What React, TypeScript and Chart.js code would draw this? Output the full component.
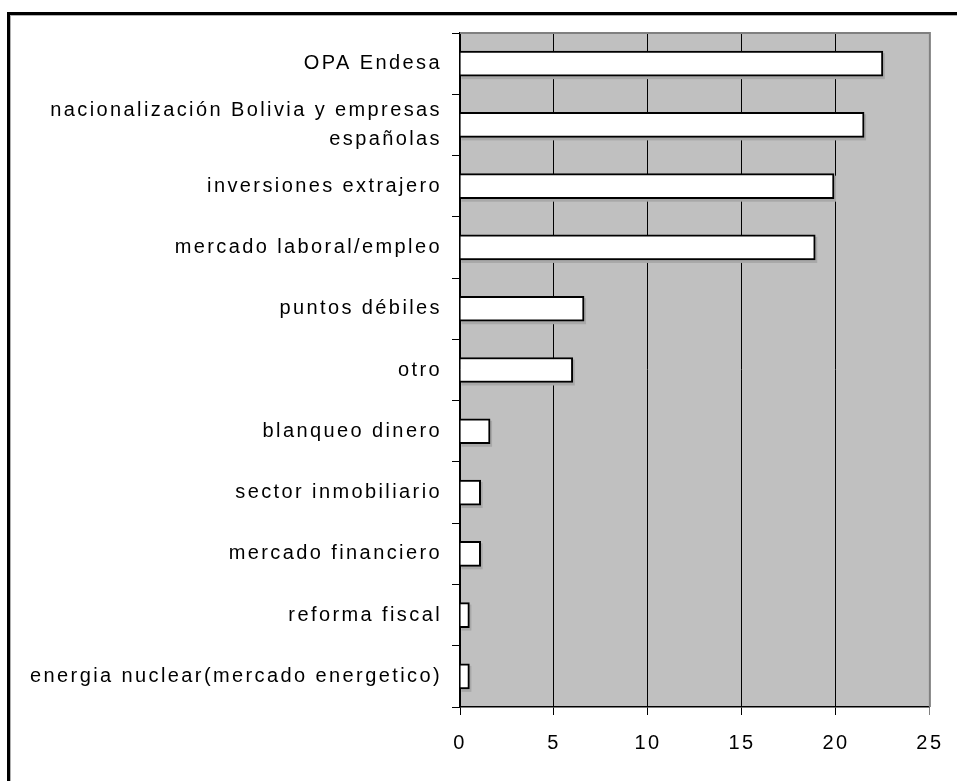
import React, { useEffect, useRef } from "react";
import { Chart, registerables } from "chart.js";

Chart.register(...registerables);

const categories: (string | string[])[] = [
  "OPA Endesa",
  ["nacionalización Bolivia y empresas", "españolas"],
  "inversiones extrajero",
  "mercado laboral/empleo",
  "puntos débiles",
  "otro",
  "blanqueo dinero",
  "sector inmobiliario",
  "mercado financiero",
  "reforma fiscal",
  "energia nuclear(mercado energetico)",
];

const values: number[] = [22.5, 21.5, 19.9, 18.9, 6.6, 6.0, 1.6, 1.1, 1.1, 0.5, 0.5];

const xTicks: number[] = [0, 5, 10, 15, 20, 25];

const W = 957;
const H = 781;
const FONT = "Liberation Sans, Arial, sans-serif";

const framePlugin = {
  id: "framePlugin",
  beforeDraw(chart: any) {
    const { ctx, chartArea } = chart;
    const { left, top, right, bottom } = chartArea;
    ctx.save();
    ctx.fillStyle = "#ffffff";
    ctx.fillRect(0, 0, chart.width, chart.height);
    ctx.fillStyle = "#C0C0C0";
    ctx.fillRect(left, top, right - left, bottom - top);
    ctx.restore();
    (ctx as any).letterSpacing = "2.4px";
  },
  beforeDatasetsDraw(chart: any) {
    const { ctx } = chart;
    const meta = chart.getDatasetMeta(0);
    ctx.save();
    ctx.fillStyle = "#a8a8a8";
    meta.data.forEach((bar: any) => {
      const { x, y, base, height } = bar.getProps(["x", "y", "base", "height"], true);
      ctx.fillRect(base + 1, y - height / 2 + 2, x - base + 1, height + 1);
    });
    ctx.restore();
  },
  afterDraw(chart: any) {
    const { ctx, chartArea } = chart;
    const { left, top, right, bottom } = chartArea;
    ctx.save();
    ctx.strokeStyle = "#808080";
    ctx.lineWidth = 2;
    ctx.beginPath();
    ctx.moveTo(left, top);
    ctx.lineTo(right, top);
    ctx.lineTo(right, bottom);
    ctx.stroke();
    ctx.fillStyle = "#000000";
    ctx.fillRect(7, 12, 3, chart.height - 12);
    ctx.fillRect(7, 12, chart.width - 7, 3);
    ctx.fillStyle = "#b0b0b0";
    ctx.fillRect(10, 15, 1, chart.height - 15);
    ctx.fillRect(10, 15, chart.width - 10, 1);
    ctx.restore();
  },
};

export default function App() {
  const ref = useRef<HTMLCanvasElement | null>(null);

  useEffect(() => {
    if (!ref.current) return;
    const chart = new Chart(ref.current, {
      type: "bar",
      data: {
        labels: categories,
        datasets: [
          {
            data: values,
            backgroundColor: "#ffffff",
            borderColor: "#000000",
            borderWidth: 2,
            barThickness: 25,
          },
        ],
      },
      options: {
        indexAxis: "y",
        responsive: false,
        animation: false,
        devicePixelRatio: 1,
        layout: { padding: { left: 0, top: 33, right: 27, bottom: 0 } },
        plugins: {
          legend: { display: false },
          title: { display: false },
          tooltip: { enabled: false },
        },
        scales: {
          x: {
            type: "linear",
            min: 0,
            max: 25,
            afterFit: (scale: any) => {
              scale.height = 74;
            },
            afterBuildTicks: (scale: any) => {
              scale.ticks = xTicks.map((v) => ({ value: v }));
            },
            grid: {
              display: true,
              drawOnChartArea: true,
              drawTicks: true,
              tickLength: 8,
              color: (c: any) => (c.tick && c.tick.value === 25 ? "#808080" : "#000000"),
              lineWidth: 1,
            },
            border: { display: true, color: "#000000", width: 1.5 },
            ticks: {
              color: "#000000",
              padding: 16,
              autoSkip: false,
              font: { family: FONT, size: 20 },
              maxRotation: 0,
            },
          },
          y: {
            type: "category",
            afterFit: (scale: any) => {
              scale.width = 460;
            },
            grid: {
              display: true,
              offset: true,
              drawOnChartArea: false,
              drawTicks: true,
              tickLength: 8,
              color: "#000000",
              lineWidth: 1,
            },
            border: { display: true, color: "#000000", width: 1.5 },
            ticks: {
              color: "#000000",
              padding: 10,
              autoSkip: false,
              font: { family: FONT, size: 20, lineHeight: 1.45 },
            },
          },
        },
      },
      plugins: [framePlugin],
    } as any);
    return () => chart.destroy();
  }, []);

  return (
    <div style={{ position: "fixed", left: 0, top: 0, width: W, height: H, overflow: "hidden", background: "#fff" }}>
      <canvas ref={ref} width={W} height={H} style={{ width: W, height: H, display: "block" }} />
    </div>
  );
}
